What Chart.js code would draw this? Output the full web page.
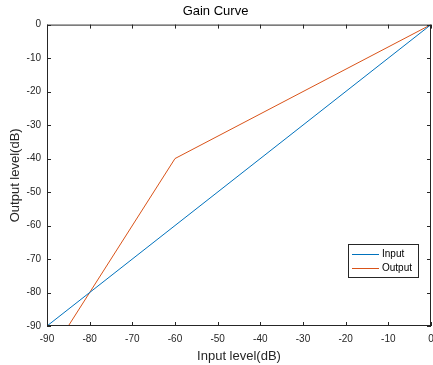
<!DOCTYPE html>
<html>
<head>
<meta charset="utf-8">
<script src="https://cdn.jsdelivr.net/npm/chart.js@4"></script>
<style>
  body { margin: 0; background: #fff; }
  #wrap { width: 433px; height: 365px; }
</style>
</head>
<body>
<div id="wrap"><canvas id="myChart"></canvas></div>
<script>
// data
const inputX = [-90, 0];
const inputY = [-90, 0];
const outputX = [-90, -60, 0];
const outputY = [-100, -40, 0];
const seriesNames = ['Input', 'Output'];
const seriesColors = ['#0072BD', '#D95319'];

const font = 'Liberation Sans, Arial, sans-serif';

function pts(xs, ys) {
  return xs.map((x, i) => ({ x: x, y: ys[i] }));
}

// box, inward ticks on all four sides, and the legend
const boxPlugin = {
  id: 'box',
  afterDatasetsDraw(chart) {
    const ctx = chart.ctx;
    const a = chart.chartArea;
    const xs = chart.scales.x, ys = chart.scales.y;
    ctx.save();
    ctx.strokeStyle = '#262626';
    ctx.lineWidth = 1;
    ctx.strokeRect(a.left + 0.5, a.top + 0.5, a.right - a.left - 1, a.bottom - a.top - 1);
    ctx.beginPath();
    xs.ticks.forEach(t => {
      const p = Math.round(xs.getPixelForValue(t.value)) + 0.5;
      ctx.moveTo(p, a.bottom); ctx.lineTo(p, a.bottom - 4);
      ctx.moveTo(p, a.top); ctx.lineTo(p, a.top + 4);
    });
    ys.ticks.forEach(t => {
      const p = Math.round(ys.getPixelForValue(t.value)) + 0.5;
      ctx.moveTo(a.left, p); ctx.lineTo(a.left + 4, p);
      ctx.moveTo(a.right, p); ctx.lineTo(a.right - 4, p);
    });
    ctx.stroke();

    // legend box, lower right
    const lx = 348, ly = 244, lw = 70, lh = 33;
    ctx.fillStyle = '#fff';
    ctx.fillRect(lx, ly, lw, lh);
    ctx.strokeStyle = '#262626';
    ctx.strokeRect(lx + 0.5, ly + 0.5, lw, lh);
    ctx.font = '10px ' + font;
    ctx.textBaseline = 'middle';
    chart.data.datasets.forEach((ds, i) => {
      const y = ly + 10 + i * 14;
      ctx.strokeStyle = ds.borderColor;
      ctx.beginPath();
      ctx.moveTo(lx + 4, y + 0.5); ctx.lineTo(lx + 31, y + 0.5);
      ctx.stroke();
      ctx.fillStyle = '#000';
      ctx.fillText(ds.label, lx + 34, y);
    });
    ctx.restore();
  }
};

new Chart(document.getElementById('myChart'), {
  type: 'scatter',
  data: {
    datasets: [
      { label: seriesNames[0], data: pts(inputX, inputY), borderColor: seriesColors[0], showLine: true, pointRadius: 0, borderWidth: 1 },
      { label: seriesNames[1], data: pts(outputX, outputY), borderColor: seriesColors[1], showLine: true, pointRadius: 0, borderWidth: 1 }
    ]
  },
  options: {
    responsive: true,
    maintainAspectRatio: false,
    animation: false,
    layout: { padding: { top: 0, right: 2, left: 0, bottom: 0 } },
    plugins: {
      legend: { display: false },
      tooltip: { enabled: false },
      title: {
        display: true,
        text: 'Gain Curve',
        color: '#000',
        font: { family: font, size: 13, weight: 'normal' },
        padding: { top: 4, bottom: 5 }
      }
    },
    scales: {
      x: {
        type: 'linear', min: -90, max: 0,
        grid: { display: false, drawTicks: false },
        border: { display: false },
        ticks: { stepSize: 10, color: '#262626', padding: 7, maxRotation: 0, font: { family: font, size: 10 } },
        title: { display: true, text: 'Input level(dB)', color: '#262626', font: { family: font, size: 13 }, padding: { top: 0, bottom: 1 } },
        afterFit(s) { s.height = 39; s.paddingRight = 0; s.paddingLeft = 0; }
      },
      y: {
        type: 'linear', min: -90, max: 0,
        grid: { display: false, drawTicks: false },
        border: { display: false },
        ticks: { stepSize: 10, color: '#262626', padding: 6, font: { family: font, size: 10 } },
        title: { display: true, text: 'Output level(dB)', color: '#262626', font: { family: font, size: 13 }, padding: { top: 8, bottom: 0 } },
        afterFit(s) { s.width = 47; s.paddingTop = 0; s.paddingBottom = 0; }
      }
    }
  },
  plugins: [boxPlugin]
});
</script>
</body>
</html>
